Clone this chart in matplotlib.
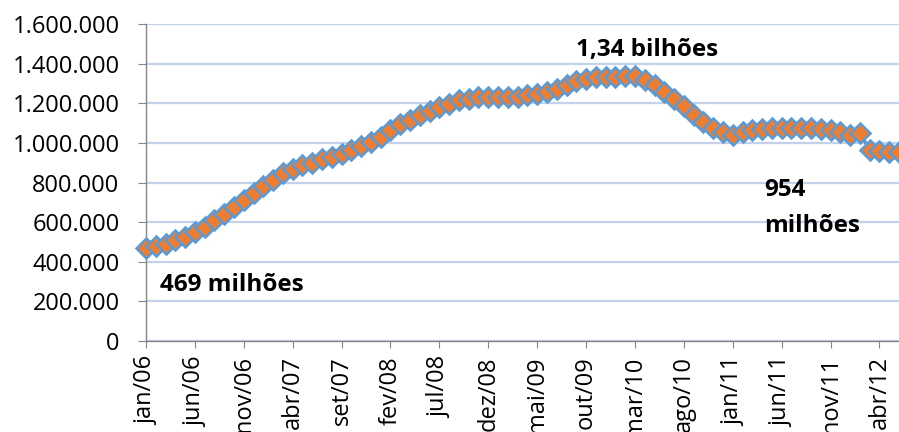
import matplotlib.pyplot as plt
from matplotlib.ticker import FuncFormatter

plt.rcParams['font.family'] = ['Open Sans', 'DejaVu Sans']

# meses jan/06 .. jun/12
meses = ["jan", "fev", "mar", "abr", "mai", "jun",
         "jul", "ago", "set", "out", "nov", "dez"]
anos = ["06", "07", "08", "09", "10", "11", "12"]
rotulos = [f"{m}/{a}" for a in anos for m in meses][:78]

# valores em milhões
valores = [
    469, 482, 492, 508, 523, 550, 577, 610, 643, 677,
    711, 748, 782, 812, 850, 870, 886, 900, 918, 930,
    945, 962, 985, 1005, 1030, 1065, 1097, 1116, 1140, 1162,
    1180, 1198, 1215, 1224, 1232, 1233, 1233, 1233, 1233, 1240,
    1248, 1257, 1272, 1292, 1310, 1325, 1332, 1334, 1335, 1340,
    1336, 1316, 1290, 1258, 1222, 1184, 1143, 1105, 1073, 1056,
    1042, 1055, 1063, 1070, 1075, 1075, 1075, 1075, 1073, 1068,
    1063, 1055, 1040, 1050, 965, 957, 955, 954,
]
valores = [v * 1000 for v in valores]  # em milhares
x = list(range(len(valores)))

fig = plt.figure(figsize=(8.99, 4.32), dpi=100)
ax = fig.add_axes([0.1624, 0.2106, 0.8376, 0.7338])

ax.plot(x, valores, color="#5B9BD5", lw=2.5, marker="D", ms=10,
        mfc="#ED7D31", mec="#5B9BD5", mew=1.8, clip_on=False, zorder=3)

ax.set_xlim(0, 77)
ax.set_ylim(0, 1600000)
ax.set_yticks(range(0, 1600001, 200000))
ax.yaxis.set_major_formatter(FuncFormatter(lambda v, p: f"{int(v):,}".replace(",", ".")))

ticks = x[::5]
ax.set_xticks(ticks)
ax.set_xticklabels([rotulos[i] for i in ticks], rotation=90)

ax.grid(axis="y", color="#C3D1EB", lw=1.6)
ax.set_axisbelow(True)
for s in ["top", "right"]:
    ax.spines[s].set_visible(False)
for s in ["left", "bottom"]:
    ax.spines[s].set_color("#868686")
    ax.spines[s].set_linewidth(1.0)
ax.tick_params(axis="y", length=6, color="#868686", pad=13, labelsize=17)
ax.tick_params(axis="x", length=5, color="#868686", pad=6, labelsize=17)

# anotações
ax.text(1.4, 283000, "469 milhões", fontsize=17.5, fontweight="bold", va="center")
ax.text(51.2, 1469000, "1,34 bilhões", fontsize=17.5, fontweight="bold",
        ha="center", va="center")
ax.text(63.2, 762000, "954", fontsize=17.5, fontweight="bold", va="center")
ax.text(63.2, 582000, "milhões", fontsize=17.5, fontweight="bold", va="center")

fig.savefig("out.png", dpi=100)
